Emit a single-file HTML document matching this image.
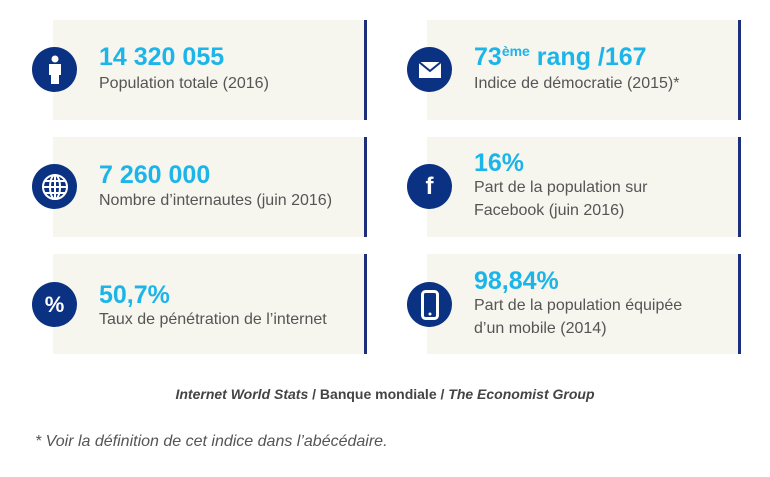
<!DOCTYPE html>
<html><head><meta charset="utf-8"><style>
body{margin:0;width:770px;height:477px;background:#fff;font-family:"Liberation Sans",sans-serif;position:relative;overflow:hidden}
.box{position:absolute;width:311px;height:100px;background:#f6f5ee;border-right:3px solid #1d2f7a}
.c{position:absolute;width:45px;height:45px;border-radius:50%;background:#0b3282;display:flex;align-items:center;justify-content:center}
.n{position:absolute;font-size:25px;font-weight:bold;color:#1cb5e9;white-space:nowrap}
.l{position:absolute;font-size:16px;color:#555;line-height:23px;white-space:nowrap}
</style></head><body>
<div class="box" style="left:53px;top:20px"></div>
<div class="box" style="left:53px;top:137px"></div>
<div class="box" style="left:53px;top:254px"></div>
<div class="box" style="left:427px;top:20px"></div>
<div class="box" style="left:427px;top:137px"></div>
<div class="box" style="left:427px;top:254px"></div>

<div class="c" style="left:32px;top:47px"><svg width="20" height="30" viewBox="0 0 20 30"><circle cx="10" cy="4" r="3.5" fill="#fff"/><rect x="4" y="9" width="12" height="11" fill="#fff"/><rect x="6" y="19" width="8" height="10" fill="#fff"/></svg></div>
<div class="c" style="left:32px;top:164px"><svg width="28" height="28" viewBox="0 0 28 28" fill="none" stroke="#fff" stroke-width="2"><circle cx="14" cy="14" r="12"/><ellipse cx="14" cy="14" rx="5" ry="12"/><line x1="2" y1="14" x2="26" y2="14"/><line x1="14" y1="2" x2="14" y2="26"/><line x1="4" y1="8" x2="24" y2="8"/><line x1="4" y1="20" x2="24" y2="20"/></svg></div>
<div class="c" style="left:32px;top:282px;color:#fff;font-weight:bold;font-size:22px">%</div>
<div class="c" style="left:407px;top:47px"><svg width="22" height="16" viewBox="0 0 22 16"><rect width="22" height="16" fill="#fff"/><path d="M0 0 L11 9 L22 0" stroke="#0b3282" stroke-width="2" fill="none"/></svg></div>
<div class="c" style="left:407px;top:164px;color:#fff;font-weight:bold;font-size:24px">f</div>
<div class="c" style="left:407px;top:282px"><svg width="18" height="30" viewBox="0 0 18 30"><rect x="1.5" y="1.5" width="15" height="27" rx="3" fill="none" stroke="#fff" stroke-width="3"/><circle cx="9" cy="24" r="1.5" fill="#fff"/></svg></div>

<div class="n" style="left:99px;top:43px">14 320 055</div>
<div class="l" style="left:99px;top:72px">Population totale (2016)</div>
<div class="n" style="left:99px;top:161px">7 260 000</div>
<div class="l" style="left:99px;top:189px">Nombre d’internautes (juin 2016)</div>
<div class="n" style="left:99px;top:281px">50,7%</div>
<div class="l" style="left:99px;top:308px">Taux de pénétration de l’internet</div>

<div class="n" style="left:474px;top:43px">73<sup style="font-size:14px;vertical-align:9px">ème</sup> rang /167</div>
<div class="l" style="left:474px;top:72px">Indice de démocratie (2015)*</div>
<div class="n" style="left:474px;top:149px">16%</div>
<div class="l" style="left:474px;top:176px">Part de la population sur<br>Facebook (juin 2016)</div>
<div class="n" style="left:474px;top:267px">98,84%</div>
<div class="l" style="left:474px;top:294px">Part de la population équipée<br>d’un mobile (2014)</div>

<div style="position:absolute;left:0;width:770px;top:386px;text-align:center;font-size:14px;font-weight:bold;color:#444"><i>Internet World Stats</i> / Banque mondiale / <i>The Economist Group</i></div>
<div style="position:absolute;left:35px;top:433px;font-size:16px;font-style:italic;color:#555">* Voir la définition de cet indice dans l’abécédaire.</div>
</body></html>
